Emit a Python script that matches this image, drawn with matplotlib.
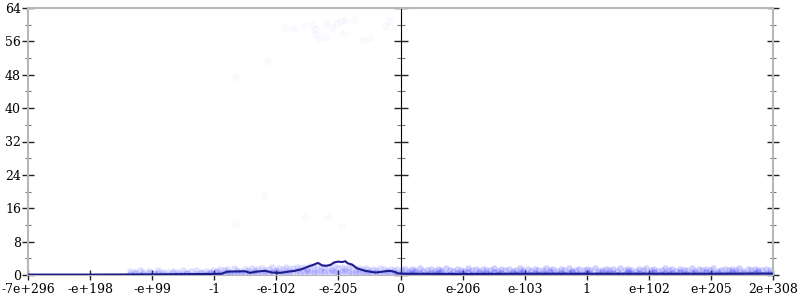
import matplotlib
matplotlib.use("Agg")
import matplotlib.pyplot as plt
from matplotlib.ticker import MultipleLocator, NullFormatter

# x positions are in tick units (one unit per labelled tick)
tick_labels = ["-7e+296", "-e+198", "-e+99", "-1", "-e-102", "-e-205", "0",
               "e-206", "e-103", "1", "e+102", "e+205", "2e+308"]

# averaged error line
line_x = [0.0, 1.0, 1.97, 2.93, 3.12, 3.21, 3.50, 3.58, 3.67, 3.82, 3.93, 4.06,
          4.19, 4.30, 4.41, 4.51, 4.59, 4.67, 4.74, 4.80, 4.87, 4.93, 4.99, 5.06,
          5.11, 5.15, 5.22, 5.30, 5.43, 5.59, 5.67, 5.75, 5.83, 5.90, 5.96, 6.07,
          7.0, 8.0, 9.0, 10.0, 11.0, 12.0]
line_y = [0.1, 0.1, 0.15, 0.25, 0.3, 0.8, 0.9, 0.5, 0.8, 1.0, 0.6, 0.5,
          0.8, 1.0, 1.4, 2.0, 2.4, 2.9, 2.3, 2.2, 2.4, 3.0, 3.2, 3.1,
          3.3, 2.8, 2.5, 1.6, 1.0, 0.6, 0.7, 0.9, 1.0, 0.8, 0.4, 0.3,
          0.25, 0.3, 0.3, 0.3, 0.3, 0.35]

# sampled points, left half
left_x = [1.65, 1.72, 1.80, 1.86, 1.95, 2.03, 2.10, 2.18, 2.26, 2.33, 2.41, 2.49,
          2.56, 2.63, 2.71, 2.78, 2.86, 2.93,
          2.98, 3.04, 3.09, 3.15, 3.21, 3.26, 3.32, 3.37, 3.43, 3.49,
          3.54, 3.60, 3.65, 3.71, 3.77, 3.82, 3.88, 3.93, 3.99, 4.05,
          4.10, 4.16, 4.21, 4.27, 4.33, 4.38, 4.44, 4.49, 4.55, 4.61,
          4.66, 4.72, 4.77, 4.83, 4.89, 4.94, 5.00, 5.05, 5.11, 5.17,
          5.22, 5.28, 5.33, 5.39, 5.45, 5.50, 5.56, 5.61, 5.67, 5.73,
          5.78, 5.84, 5.89, 5.95]
left_y_hi = [0.9, 0.6, 1.1, 0.7, 1.0, 0.5, 1.2, 0.8, 0.6, 1.0, 0.7, 1.1, 0.5, 0.9, 1.2, 0.6, 1.0, 0.8,
             1.3, 0.9, 1.5, 1.1, 1.4, 0.8, 1.6, 1.2, 1.0, 1.5,
             1.3, 1.7, 1.1, 1.4, 1.6, 1.2, 1.5, 1.8, 1.3, 1.6,
             1.4, 1.9, 1.5, 1.7, 2.0, 1.6, 1.8, 1.5, 2.1, 1.7,
             1.9, 1.6, 2.0, 1.8, 1.5, 2.2, 1.7, 1.9, 1.6, 2.0,
             1.8, 1.5, 1.7, 1.4, 1.6, 1.3, 1.5, 1.2, 1.6, 1.4,
             1.3, 1.5, 1.2, 1.4]
left_y_lo = [0.2, 0.4, 0.1, 0.3, 0.5, 0.2, 0.4, 0.3, 0.1, 0.5, 0.2, 0.3, 0.4, 0.1, 0.3, 0.5, 0.2, 0.4,
             0.3, 0.6, 0.2, 0.5, 0.7, 0.4, 0.3, 0.6, 0.5, 0.2,
             0.6, 0.4, 0.8, 0.3, 0.5, 0.7, 0.4, 0.6, 0.9, 0.5,
             0.7, 0.4, 0.8, 0.6, 0.9, 0.5, 0.7, 1.0, 0.6, 0.8,
             0.5, 0.9, 0.7, 0.6, 1.0, 0.8, 0.5, 0.7, 0.9, 0.6,
             0.4, 0.7, 0.5, 0.8, 0.3, 0.6, 0.4, 0.7, 0.5, 0.3,
             0.6, 0.4, 0.2, 0.5]

# sampled points, right half
right_x = [6.02, 6.08, 6.13, 6.19, 6.24, 6.31, 6.37, 6.42, 6.49, 6.55,
           6.61, 6.66, 6.73, 6.79, 6.84, 6.91, 6.97, 7.03, 7.08, 7.15,
           7.21, 7.26, 7.33, 7.38, 7.44, 7.51, 7.57, 7.62, 7.69, 7.74,
           7.81, 7.86, 7.92, 7.98, 8.05, 8.11, 8.16, 8.22, 8.29, 8.34,
           8.41, 8.46, 8.52, 8.59, 8.64, 8.71, 8.77, 8.82, 8.88, 8.95,
           9.01, 9.06, 9.13, 9.18, 9.25, 9.31, 9.36, 9.42, 9.49, 9.54,
           9.61, 9.66, 9.72, 9.79, 9.84, 9.91, 9.96, 10.03, 10.08, 10.14,
           10.21, 10.26, 10.33, 10.38, 10.44, 10.51, 10.56, 10.62, 10.69, 10.74,
           10.81, 10.86, 10.92, 10.99, 11.04, 11.11, 11.16, 11.22, 11.29, 11.34,
           11.41, 11.46, 11.52, 11.59, 11.64, 11.71, 11.76, 11.82, 11.89, 11.95]
right_y_hi = [1.2, 1.5, 0.9, 1.4, 1.1, 1.6, 1.0, 1.3, 1.5, 0.9,
              1.4, 1.1, 1.6, 1.2, 0.9, 1.5, 1.3, 1.0, 1.6, 1.2,
              1.4, 0.9, 1.5, 1.1, 1.3, 1.6, 1.0, 1.4, 1.2, 1.5,
              0.9, 1.3, 1.6, 1.1, 1.4, 1.0, 1.5, 1.2, 1.3, 1.6,
              1.1, 1.4, 0.9, 1.5, 1.2, 1.6, 1.0, 1.3, 1.5, 1.1,
              1.4, 1.2, 1.6, 0.9, 1.3, 1.5, 1.1, 1.4, 1.0, 1.6,
              1.2, 1.5, 1.3, 0.9, 1.4, 1.1, 1.6, 1.2, 1.5, 1.0,
              1.3, 1.6, 1.1, 1.4, 0.9, 1.5, 1.2, 1.3, 1.6, 1.0,
              1.4, 1.1, 1.5, 1.2, 1.6, 0.9, 1.3, 1.4, 1.1, 1.5,
              1.2, 1.6, 1.0, 1.4, 1.3, 1.5, 1.1, 1.2, 1.4, 1.3]
right_y_lo = [0.3, 0.1, 0.5, 0.2, 0.6, 0.4, 0.1, 0.3, 0.5, 0.2,
              0.4, 0.6, 0.2, 0.3, 0.1, 0.5, 0.4, 0.2, 0.6, 0.3,
              0.1, 0.4, 0.2, 0.5, 0.3, 0.6, 0.2, 0.4, 0.1, 0.3,
              0.5, 0.2, 0.4, 0.6, 0.3, 0.1, 0.5, 0.2, 0.4, 0.3,
              0.6, 0.1, 0.3, 0.5, 0.2, 0.4, 0.6, 0.1, 0.3, 0.2,
              0.5, 0.4, 0.1, 0.3, 0.6, 0.2, 0.4, 0.5, 0.1, 0.3,
              0.2, 0.6, 0.4, 0.1, 0.5, 0.3, 0.2, 0.4, 0.6, 0.1,
              0.3, 0.5, 0.2, 0.4, 0.1, 0.6, 0.3, 0.2, 0.5, 0.4,
              0.1, 0.3, 0.6, 0.2, 0.4, 0.5, 0.1, 0.3, 0.2, 0.6,
              0.4, 0.1, 0.5, 0.3, 0.2, 0.4, 0.6, 0.1, 0.3, 0.5]

# faint outliers
out_x = [4.14, 4.28, 4.45, 4.59, 4.64, 4.80, 4.90, 4.98, 5.04, 5.11, 5.25, 5.09,
         4.62, 4.69, 4.80, 5.40, 5.51, 5.75, 5.82, 3.85, 3.35, 3.80, 3.35, 4.46,
         4.83, 5.06]
out_y = [59.5, 59.0, 59.9, 59.9, 59.0, 60.4, 59.5, 60.4, 60.9, 61.2, 61.2, 57.8,
         57.8, 56.6, 57.1, 56.4, 56.8, 59.7, 60.9, 51.3, 47.5, 19.2, 12.2, 13.9,
         13.9, 11.7]

plt.rcParams['font.family'] = ['DejaVu Serif']

fig = plt.figure(figsize=(8, 3), dpi=100)
ax = fig.add_axes([28 / 800, 25 / 300, 745 / 800, 267 / 300])

pc = '#3a3aff'
ax.scatter(out_x, out_y, s=22, facecolor=pc, edgecolor=pc, alpha=0.02,
           linewidths=0.8, zorder=2)
ax.scatter(left_x, left_y_hi, s=22, color=pc, alpha=0.15, linewidths=0, zorder=2)
ax.scatter(left_x, left_y_lo, s=22, color=pc, alpha=0.22, linewidths=0, zorder=2)
ax.scatter(right_x, right_y_hi, s=22, color=pc, alpha=0.22, linewidths=0, zorder=2)
ax.scatter(right_x, right_y_lo, s=22, color=pc, alpha=0.32, linewidths=0, zorder=2)
ax.plot(line_x, line_y, color='#1c1c8a', lw=1.5, zorder=3)

ax.set_xlim(0, 12)
ax.set_ylim(0, 64)
ax.set_xticks(range(len(tick_labels)))
ax.set_xticklabels(tick_labels)
ax.yaxis.set_major_locator(MultipleLocator(8))
ax.yaxis.set_minor_locator(MultipleLocator(4))

for side in ['left', 'right', 'top']:
    ax.spines[side].set_color('#b8b8b8')
    ax.spines[side].set_linewidth(1.5)
ax.spines['bottom'].set_color('#b8b8b8')

ax.tick_params(axis='y', which='major', direction='inout', length=8, width=1,
               color='#222222', left=True, right=True, labelsize=9, pad=1)
ax.tick_params(axis='y', which='minor', direction='inout', length=5, width=0.8,
               color='#777777', left=True, right=True)
ax.tick_params(axis='x', which='major', direction='inout', length=7, width=1,
               color='#222222', labelsize=9, pad=2)

# middle axis at zero
mid = ax.secondary_yaxis(0.5)
mid.spines['left'].set_color('#555555')
mid.spines['left'].set_linewidth(1)
mid.yaxis.set_major_locator(MultipleLocator(8))
mid.yaxis.set_minor_locator(MultipleLocator(4))
mid.yaxis.set_major_formatter(NullFormatter())
mid.tick_params(which='major', direction='inout', length=10, width=1, color='#222222')
mid.tick_params(which='minor', direction='inout', length=6, width=0.8, color='#777777')

fig.savefig('out.png', dpi=100)
